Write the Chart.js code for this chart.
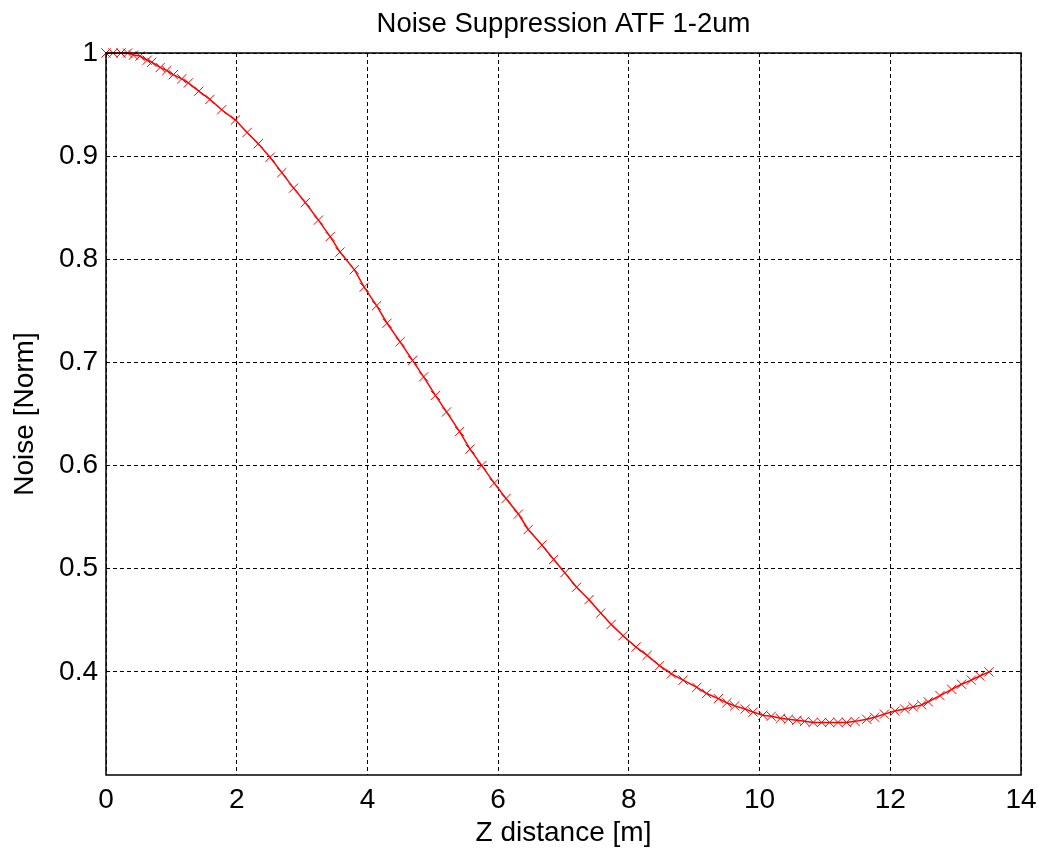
<!DOCTYPE html>
<html>
<head>
<meta charset="utf-8">
<script src="https://cdn.jsdelivr.net/npm/chart.js@4"></script>
<style>
  body { margin: 0; background: #fff; }
</style>
</head>
<body>
<canvas id="myChart" width="1039" height="851"></canvas>
<script>
  // z distance [m] of each marker
  const zDistance = [
      0, 0.11, 0.23, 0.33, 0.42, 0.52, 0.63, 0.70, 0.83, 0.93,
      1.03, 1.16, 1.26, 1.42, 1.59, 1.77, 1.98, 2.16, 2.33, 2.51,
      2.69, 2.87, 3.05, 3.25, 3.43, 3.58, 3.80, 3.95, 4.14, 4.30,
      4.50, 4.69, 4.86, 5.04, 5.21, 5.41, 5.57, 5.75, 5.94, 6.12,
      6.31, 6.46, 6.67, 6.85, 7.02, 7.20, 7.39, 7.57, 7.73, 7.91,
      8.11, 8.28, 8.47, 8.65, 8.83, 9.04, 9.19, 9.37, 9.50, 9.62,
      9.78, 9.90, 10.05, 10.18, 10.32, 10.44, 10.57, 10.69, 10.82, 10.95,
      11.07, 11.20, 11.33, 11.46, 11.64, 11.76, 11.91, 12.07, 12.22, 12.35,
      12.48, 12.58, 12.76, 12.94, 13.09, 13.24, 13.37, 13.51
  ];
  // normalised noise
  const noiseNorm = [
      1.0, 1.0, 1.0, 1.0, 0.998, 0.997, 0.993, 0.991, 0.986, 0.983,
      0.979, 0.975, 0.971, 0.963, 0.955, 0.945, 0.935, 0.923, 0.912, 0.899,
      0.884, 0.869, 0.855, 0.838, 0.822, 0.807, 0.790, 0.773, 0.755, 0.738,
      0.720, 0.702, 0.686, 0.668, 0.652, 0.633, 0.616, 0.600, 0.583, 0.568,
      0.553, 0.538, 0.523, 0.509, 0.496, 0.482, 0.470, 0.457, 0.446, 0.435,
      0.424, 0.416, 0.406, 0.398, 0.392, 0.385, 0.379, 0.374, 0.370, 0.367,
      0.364, 0.361, 0.358, 0.357, 0.355, 0.354, 0.353, 0.352, 0.351, 0.351,
      0.351, 0.351, 0.351, 0.352, 0.354, 0.356, 0.359, 0.362, 0.364, 0.366,
      0.368, 0.371, 0.377, 0.383, 0.388, 0.392, 0.396, 0.400
  ];
  const xTicks = [0, 2, 4, 6, 8, 10, 12, 14];
  const yTicks = [0.4, 0.5, 0.6, 0.7, 0.8, 0.9, 1];

  const FONT = 'Arial, "Liberation Sans", sans-serif';
  Chart.defaults.font.family = FONT;
  Chart.defaults.color = '#000';

  // black box round the plot area
  const frame = {
      id: 'frame',
      afterDraw(chart) {
          const a = chart.chartArea;
          const c = chart.ctx;
          c.save();
          c.strokeStyle = '#000';
          c.lineWidth = 1.5;
          c.setLineDash([]);
          c.strokeRect(a.left, a.top, a.right - a.left, a.bottom - a.top);
          c.restore();
      }
  };

  let ctx = document.getElementById('myChart').getContext('2d');
  let points = zDistance.map((z, i) => ({ x: z, y: noiseNorm[i] }));

  new Chart(ctx, {
      type: 'line',
      data: {
          datasets: [{
              data: points,
              borderColor: '#ff0000',
              borderWidth: 1.5,
              pointStyle: 'crossRot',
              pointRadius: 6.5,
              pointBorderColor: '#ff0000',
              pointBorderWidth: 1,
              pointBackgroundColor: '#ff0000',
              fill: false,
              tension: 0,
              clip: false
          }]
      },
      options: {
          responsive: false,
          animation: false,
          layout: { autoPadding: false, padding: { left: 0, right: 18, top: 0, bottom: 0 } },
          plugins: {
              legend: { display: false },
              tooltip: { enabled: false },
              title: {
                  display: true,
                  fullSize: false,
                  text: 'Noise Suppression ATF 1-2um',
                  color: '#000',
                  font: { size: 27.5, weight: 'normal' },
                  padding: { top: 8, bottom: 12 }
              }
          },
          scales: {
              x: {
                  type: 'linear',
                  min: 0,
                  max: 14,
                  afterBuildTicks: s => { s.ticks = xTicks.map(v => ({ value: v })); },
                  afterFit: s => {
                      s.height = 76;
                      s.paddingLeft = 0;
                      s.paddingRight = 0;
                  },
                  grid: { color: '#000', lineWidth: 1, drawTicks: false },
                  border: { display: false, dash: [4, 3] },
                  ticks: { padding: 8, font: { size: 28 }, maxRotation: 0 },
                  title: {
                      display: true,
                      text: 'Z distance [m]',
                      font: { size: 28 },
                      padding: { top: 0, bottom: 1 }
                  }
              },
              y: {
                  min: 0.3,
                  max: 1,
                  afterBuildTicks: s => { s.ticks = yTicks.map(v => ({ value: v })); },
                  afterFit: s => {
                      s.width = 106;
                      s.paddingTop = 0;
                      s.paddingBottom = 0;
                  },
                  grid: { color: '#000', lineWidth: 1, drawTicks: false },
                  border: { display: false, dash: [4, 3] },
                  ticks: {
                      padding: 8,
                      font: { size: 28 },
                      callback: v => String(Math.round(v * 10) / 10)
                  },
                  title: {
                      display: true,
                      text: 'Noise [Norm]',
                      font: { size: 28 },
                      padding: { top: 8, bottom: 0 }
                  }
              }
          }
      },
      plugins: [frame]
  });
</script>
</body>
</html>
